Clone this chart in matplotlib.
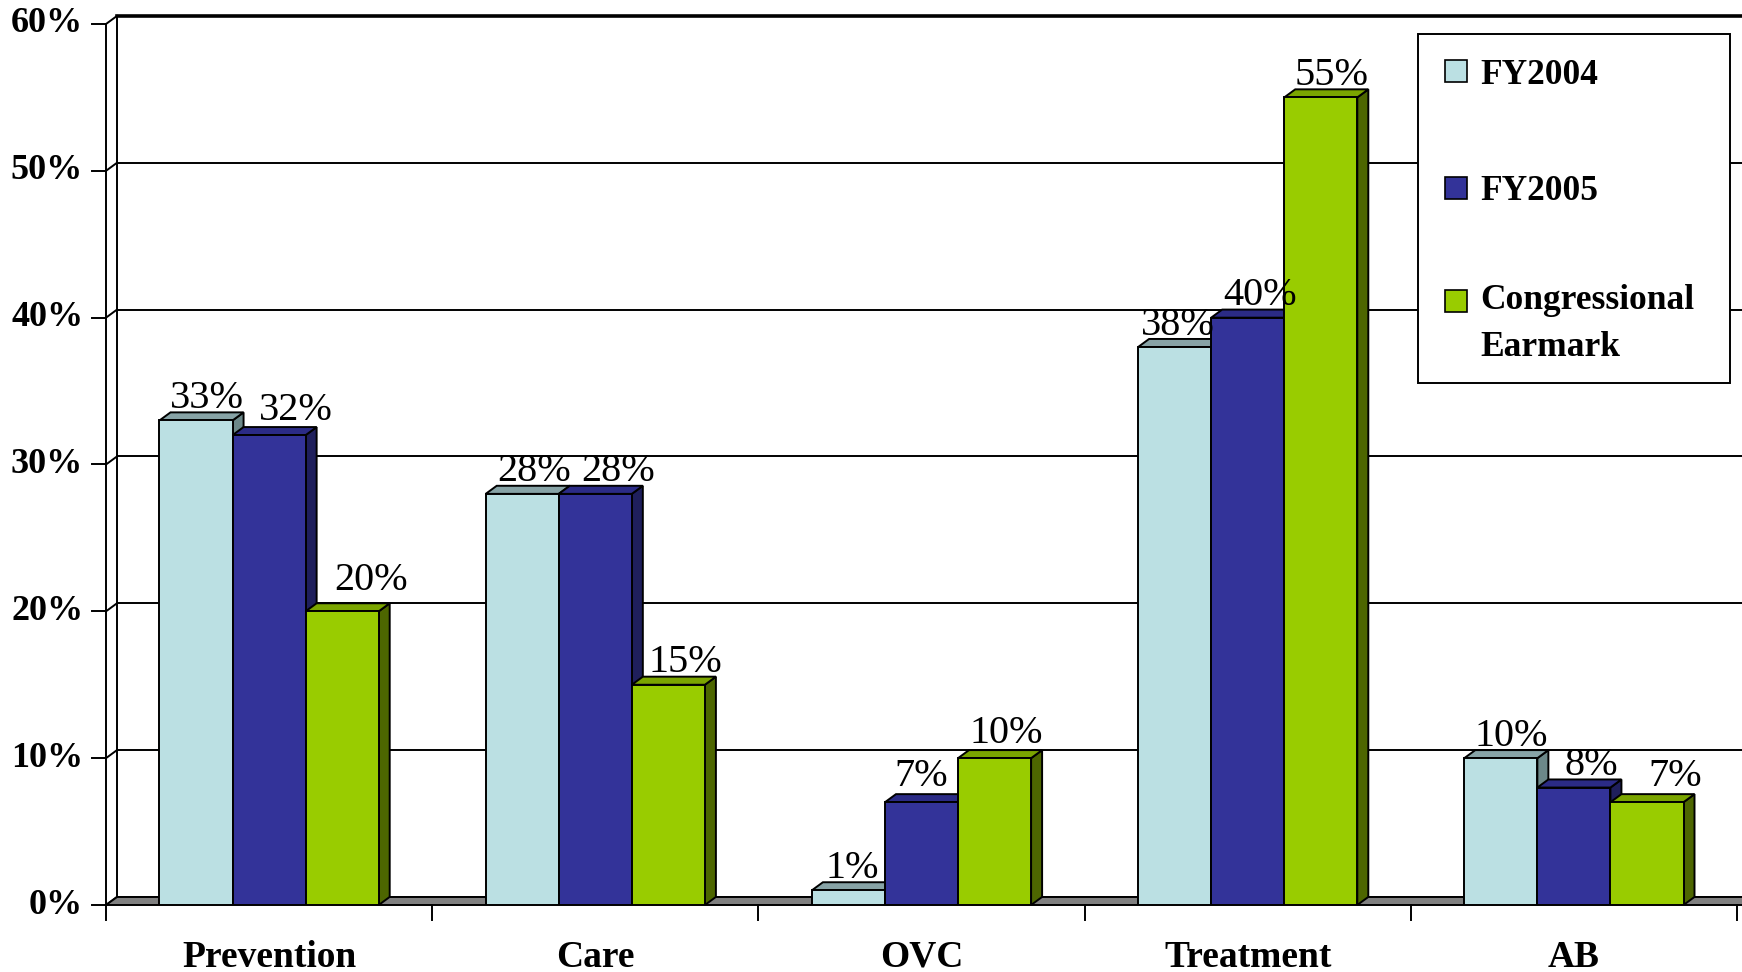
import numpy as np
import matplotlib
matplotlib.use("Agg")
import matplotlib.pyplot as plt
from matplotlib.patches import Polygon, Rectangle

# data
categories = ["Prevention", "Care", "OVC", "Treatment", "AB"]
series = ["FY2004", "FY2005", "Congressional\nEarmark"]
fy2004 = [33, 28, 1, 38, 10]
fy2005 = [32, 28, 7, 40, 8]
earmark = [20, 15, 10, 55, 7]
yticks = [0, 10, 20, 30, 40, 50, 60]

# label nudges (pixels), like excel places them
lab_dx = [[11, 12, 4, 3, 10], [27, 23, 0, 12, 17], [29, 17, 12, 11, 28]]
lab_dy = [[0, 0, 0, 0, 0], [3, 0, 4, 0, 0], [9, 0, 3, 0, 4]]

front = ["#BBE0E3", "#333399", "#99CC00"]
top = ["#87A3A6", "#2B2B86", "#7BA500"]
side = ["#6C8889", "#1F1F5C", "#4D6600"]

W, H = 1742, 972
fig = plt.figure(figsize=(W / 100, H / 100), dpi=100)
ax = fig.add_axes([106 / W, 67 / H, (1737 - 106) / W, 881 / H])
ax.set_xlim(-0.5, 4.5)
ax.set_ylim(0, 60)
ax.axis("off")

# 3d depth in data units
pxx = 1 / 326.2
pxy = 1 / 14.68
dx = 11 * pxx
dy = 0.55
xr = 4.6
lw = 1.4
serif = "Liberation Serif"

# back wall + gridlines
for t in yticks:
    ax.plot([-0.5 + dx, xr], [t + dy, t + dy], color="black", lw=lw if t < 60 else 2.6,
            zorder=1, clip_on=False)
    ax.plot([-0.5, -0.5 + dx], [t, t + dy], color="black", lw=lw, zorder=1, clip_on=False)
    ax.plot([-0.5 - 0.043, -0.5], [t, t], color="black", lw=lw, zorder=1, clip_on=False)
    ax.text(-0.5 - 0.07, t, f"{t}%", ha="right", va="center", fontsize=26,
            fontweight="bold", family=serif)
ax.plot([-0.5, -0.5], [0, 60], color="black", lw=lw, zorder=1, clip_on=False)
ax.plot([-0.5 + dx, -0.5 + dx], [dy, 60 + dy], color="black", lw=lw, zorder=1, clip_on=False)

# floor
ax.add_patch(Polygon([[-0.5, 0], [xr, 0], [xr, dy], [-0.5 + dx, dy]], closed=True,
                     facecolor="#808080", edgecolor="black", lw=lw, zorder=2, clip_on=False))
for b in np.arange(-0.5, 5.0, 1.0):
    ax.plot([b, b], [0, -1.0], color="black", lw=lw, zorder=2, clip_on=False)

# bars
bw = 0.224
vals = [fy2004, fy2005, earmark]
for i in range(len(categories)):
    for j in range(3):
        h = vals[j][i]
        x0 = i + (j - 1) * bw - bw / 2
        z = 3 + i * 3 + j
        ax.add_patch(Polygon([[x0 + bw, 0], [x0 + bw + dx, dy], [x0 + bw + dx, h + dy], [x0 + bw, h]],
                             closed=True, facecolor=side[j], edgecolor="black", lw=lw, zorder=z))
        ax.add_patch(Polygon([[x0, h], [x0 + dx, h + dy], [x0 + bw + dx, h + dy], [x0 + bw, h]],
                             closed=True, facecolor=top[j], edgecolor="black", lw=lw, zorder=z))
        ax.bar(x0, h, bw, align="edge", color=front[j], edgecolor="black", lw=lw, zorder=z)
        ax.text(x0 + bw / 2 + lab_dx[j][i] * pxx, h + dy + 0.3 + lab_dy[j][i] * pxy, f"{h}%",
                ha="center", va="baseline", fontsize=29, family=serif, zorder=30)
    ax.text(i, -4.2, categories[i], ha="center", va="baseline", fontsize=27,
            fontweight="bold", family=serif, clip_on=False)

# legend
fig.add_artist(Rectangle((1418 / W, 1 - 383 / H), (1730 - 1418) / W, (383 - 34) / H,
                         transform=fig.transFigure, facecolor="white", edgecolor="black",
                         lw=lw, zorder=40))
for j, yc in enumerate([71, 188, 301]):
    fig.add_artist(Rectangle((1445 / W, 1 - (yc + 11) / H), 22 / W, 22 / H,
                             transform=fig.transFigure, facecolor=front[j],
                             edgecolor="black", lw=1.2, zorder=41))
    if j < 2:
        fig.text(1480 / W, 1 - (yc + 4) / H, series[j], ha="left", va="center",
                 fontsize=25.5, fontweight="bold", family=serif, zorder=42)
    else:
        fig.text(1480 / W, 1 - (yc - 17) / H, series[j], ha="left", va="top",
                 fontsize=25.5, fontweight="bold", family=serif, zorder=42, linespacing=1.55)

fig.savefig("out.png", dpi=100)
